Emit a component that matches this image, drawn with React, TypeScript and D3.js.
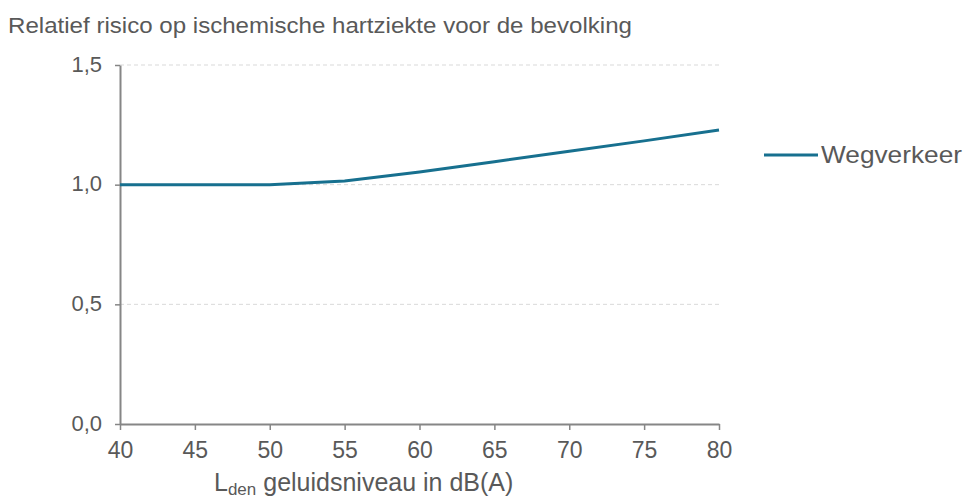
import { useEffect, useRef } from 'react';
import * as d3 from 'd3';

const levels = [40, 45, 50, 55, 60, 65, 70, 75, 80];
const wegverkeer = [1.0, 1.0, 1.0, 1.015, 1.053, 1.096, 1.14, 1.183, 1.228];
const yTicks = [0, 0.5, 1.0, 1.5];
const seriesName = 'Wegverkeer';

export default function App() {
  const svgRef = useRef<SVGSVGElement>(null);

  useEffect(() => {
    const width = 966;
    const height = 500;
    const margin = { top: 65, right: 247, bottom: 76, left: 120 };
    const font = '"Liberation Sans", Arial, sans-serif';
    const textColor = '#595959';
    const lineColor = '#17708f';

    const svg = d3.select(svgRef.current);
    svg.selectAll('*').remove();

    const x = d3.scaleLinear().domain([40, 80]).range([margin.left, width - margin.right]);
    const y = d3.scaleLinear().domain([0, 1.5]).range([height - margin.bottom, margin.top]);
    const fmt = (v: number) => d3.format('.1f')(v).replace('.', ',');

    // dashed gridlines
    svg.append('g')
      .selectAll('line')
      .data(yTicks.filter(d => d > 0))
      .join('line')
      .attr('x1', x(40))
      .attr('x2', x(80))
      .attr('y1', d => y(d))
      .attr('y2', d => y(d))
      .attr('stroke', '#d9d9d9')
      .attr('stroke-dasharray', '4,3');

    const xAxis = svg.append('g')
      .attr('transform', `translate(0,${y(0)})`)
      .call(d3.axisBottom(x).tickValues(levels).tickSize(6).tickSizeOuter(0).tickPadding(12));
    xAxis.select('.domain').attr('stroke', '#868686').attr('stroke-width', 2);
    xAxis.selectAll('.tick line').attr('stroke', '#868686').attr('stroke-width', 1.5);
    xAxis.selectAll('.tick text')
      .attr('fill', textColor)
      .attr('font-family', font)
      .attr('font-size', 23);

    const yAxis = svg.append('g')
      .attr('transform', `translate(${x(40)},0)`)
      .call(d3.axisLeft(y).tickValues(yTicks).tickFormat(d => fmt(+d)).tickSize(5).tickSizeOuter(0).tickPadding(13));
    yAxis.select('.domain').attr('stroke', '#868686').attr('stroke-width', 2);
    yAxis.selectAll('.tick line').attr('stroke', '#868686').attr('stroke-width', 1.5);
    yAxis.selectAll('.tick text')
      .attr('fill', textColor)
      .attr('font-family', font)
      .attr('font-size', 22)
      .attr('dy', '0.28em');

    const line = d3.line<number>()
      .x((_, i) => x(levels[i]))
      .y(d => y(d));

    svg.append('path')
      .datum(wegverkeer)
      .attr('fill', 'none')
      .attr('stroke', lineColor)
      .attr('stroke-width', 3)
      .attr('d', line);

    // title
    svg.append('text')
      .attr('x', 8)
      .attr('y', 33)
      .attr('fill', textColor)
      .attr('font-family', font)
      .attr('font-size', 22)
      .attr('textLength', 624)
      .attr('lengthAdjust', 'spacingAndGlyphs')
      .text('Relatief risico op ischemische hartziekte voor de bevolking');

    // legend
    svg.append('line')
      .attr('x1', 764)
      .attr('x2', 818)
      .attr('y1', 155)
      .attr('y2', 155)
      .attr('stroke', lineColor)
      .attr('stroke-width', 3);
    svg.append('text')
      .attr('x', 821)
      .attr('y', 163)
      .attr('fill', textColor)
      .attr('font-family', font)
      .attr('font-size', 24)
      .attr('textLength', 141)
      .attr('lengthAdjust', 'spacingAndGlyphs')
      .text(seriesName);

    // x axis title with subscript
    const xt = svg.append('text')
      .attr('x', 214)
      .attr('y', 491)
      .attr('fill', textColor)
      .attr('font-family', font)
      .attr('font-size', 25);
    xt.append('tspan').text('L');
    xt.append('tspan').attr('font-size', 17).attr('dy', 4).text('den');
    xt.append('tspan').attr('dy', -4).text(' geluidsniveau in dB(A)');
  }, []);

  return (
    <div style={{ position: 'absolute', left: 0, top: 0, background: '#fff' }}>
      <svg ref={svgRef} width={966} height={500} style={{ display: 'block' }} />
    </div>
  );
}
